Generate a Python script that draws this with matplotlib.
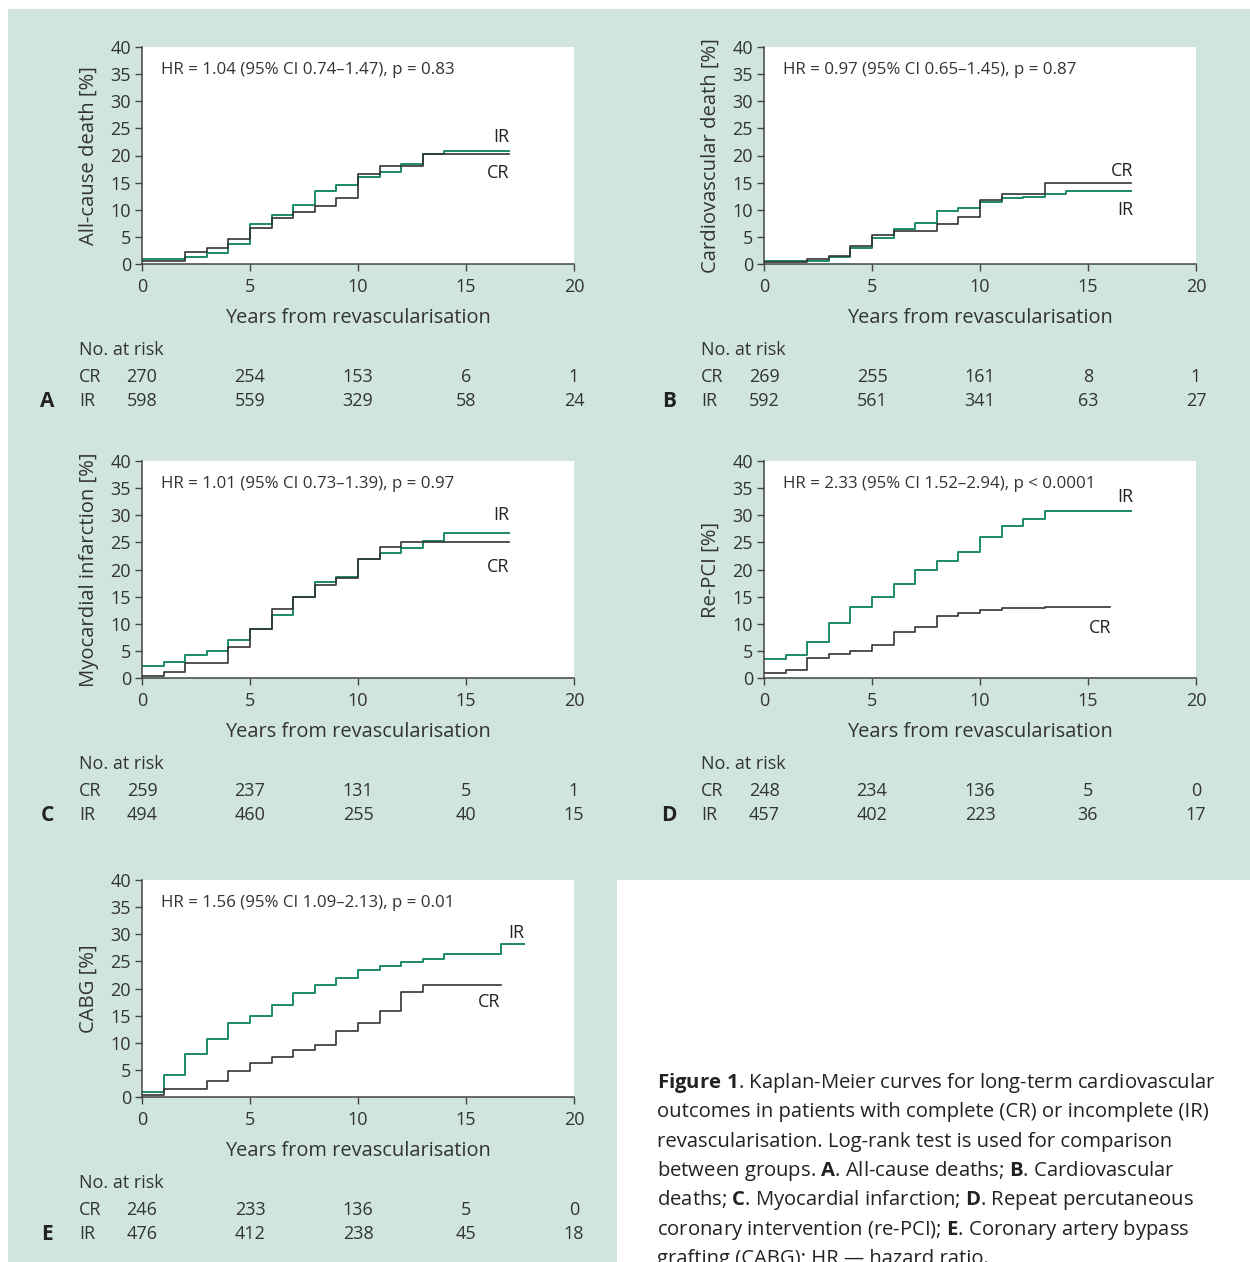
import matplotlib
matplotlib.use("Agg")
import matplotlib.pyplot as plt
import matplotlib.transforms as mtransforms
from matplotlib.patches import Polygon

plt.rcParams['font.family'] = ['Open Sans', 'DejaVu Sans']
plt.rcParams['mathtext.fontset'] = 'custom'
plt.rcParams['mathtext.rm'] = 'Open Sans'
plt.rcParams['mathtext.bf'] = 'Open Sans:bold'

W, H = 1250, 1262
BG = '#d0e5dd'
GREEN = '#1b8a67'
DARK = '#333333'

######################################################################
# data (cumulative incidence, %)

a_years_cr = [0, 2, 3, 4, 5, 6, 7, 8, 9, 10, 11, 13, 17]
a_cr = [0.6, 2.3, 3.0, 4.7, 6.7, 8.4, 9.5, 10.6, 12.2, 16.5, 18.1, 20.2, 20.2]
a_years_ir = [0, 2, 3, 4, 5, 6, 7, 8, 9, 10, 11, 12, 13, 14, 17]
a_ir = [1.0, 1.3, 2.0, 3.6, 7.3, 9.1, 10.8, 13.5, 14.5, 16.0, 17.0, 18.5, 20.2, 20.8, 20.8]

b_years_cr = [0, 2, 3, 4, 5, 6, 8, 9, 10, 11, 13, 17]
b_cr = [0.4, 0.9, 1.5, 3.3, 5.3, 6.1, 7.3, 8.7, 11.8, 12.9, 15.0, 15.0]
b_years_ir = [0, 3, 4, 5, 6, 7, 8, 9, 10, 11, 12, 13, 14, 17]
b_ir = [0.5, 1.3, 3.0, 4.8, 6.5, 7.6, 9.8, 10.4, 11.5, 12.2, 12.4, 12.9, 13.4, 13.4]

c_years_cr = [0, 1, 2, 4, 5, 6, 7, 8, 9, 10, 11, 12, 17]
c_cr = [0.4, 1.1, 2.7, 5.7, 9.1, 12.7, 14.9, 17.2, 18.4, 21.9, 24.2, 25.0, 25.0]
c_years_ir = [0, 1, 2, 3, 4, 5, 6, 7, 8, 9, 10, 11, 12, 13, 14, 17]
c_ir = [2.3, 3.0, 4.3, 5.0, 7.0, 9.1, 11.6, 14.9, 17.7, 18.7, 21.9, 23.1, 24.0, 25.3, 26.8, 26.8]

d_years_cr = [0, 1, 2, 3, 4, 5, 6, 7, 8, 9, 10, 11, 13, 16]
d_cr = [0.9, 1.5, 3.7, 4.5, 4.9, 6.1, 8.5, 9.4, 11.5, 11.9, 12.5, 12.9, 13.1, 13.1]
d_years_ir = [0, 1, 2, 3, 4, 5, 6, 7, 8, 9, 10, 11, 12, 13, 17]
d_ir = [3.5, 4.3, 6.7, 10.2, 13.0, 14.9, 17.4, 19.9, 21.6, 23.3, 25.9, 28.1, 29.3, 30.7, 30.7]

e_years_cr = [0, 1, 3, 4, 5, 6, 7, 8, 9, 10, 11, 12, 13, 16.6]
e_cr = [0.4, 1.4, 3.0, 4.8, 6.2, 7.4, 8.6, 9.5, 12.1, 13.6, 15.8, 19.4, 20.6, 20.6]
e_years_ir = [0, 1, 2, 3, 4, 5, 6, 7, 8, 9, 10, 11, 12, 13, 14, 16.6, 17.7]
e_ir = [1.0, 4.1, 7.9, 10.6, 13.6, 14.9, 16.9, 19.2, 20.7, 22.0, 23.4, 24.1, 24.8, 25.5, 26.3, 28.2, 28.2]

risk_years = [0, 5, 10, 15, 20]
a_risk_cr = [270, 254, 153, 6, 1]
a_risk_ir = [598, 559, 329, 58, 24]
b_risk_cr = [269, 255, 161, 8, 1]
b_risk_ir = [592, 561, 341, 63, 27]
c_risk_cr = [259, 237, 131, 5, 1]
c_risk_ir = [494, 460, 255, 40, 15]
d_risk_cr = [248, 234, 136, 5, 0]
d_risk_ir = [457, 402, 223, 36, 17]
e_risk_cr = [246, 233, 136, 5, 0]
e_risk_ir = [476, 412, 238, 45, 18]

######################################################################

panels = [
    dict(letter='A', ylabel='All-cause death [%]',
         hr='HR = 1.04 (95% CI 0.74–1.47), p = 0.83',
         cr=(a_years_cr, a_cr), ir=(a_years_ir, a_ir),
         risk=(a_risk_cr, a_risk_ir),
         cr_lab=(17, 16.8), ir_lab=(17, 23.5), left=142, top=47),
    dict(letter='B', ylabel='Cardiovascular death [%]',
         hr='HR = 0.97 (95% CI 0.65–1.45), p = 0.87',
         cr=(b_years_cr, b_cr), ir=(b_years_ir, b_ir),
         risk=(b_risk_cr, b_risk_ir),
         cr_lab=(17.1, 17.2), ir_lab=(17.1, 10.0), left=764, top=47),
    dict(letter='C', ylabel='Myocardial infarction [%]',
         hr='HR = 1.01 (95% CI 0.73–1.39), p = 0.97',
         cr=(c_years_cr, c_cr), ir=(c_years_ir, c_ir),
         risk=(c_risk_cr, c_risk_ir),
         cr_lab=(17, 20.4), ir_lab=(17, 30.1), left=142, top=461),
    dict(letter='D', ylabel='Re-PCI [%]',
         hr='HR = 2.33 (95% CI 1.52–2.94), p < 0.0001',
         cr=(d_years_cr, d_cr), ir=(d_years_ir, d_ir),
         risk=(d_risk_cr, d_risk_ir),
         cr_lab=(16.1, 9.3), ir_lab=(17.1, 33.4), left=764, top=461),
    dict(letter='E', ylabel='CABG [%]',
         hr='HR = 1.56 (95% CI 1.09–2.13), p = 0.01',
         cr=(e_years_cr, e_cr), ir=(e_years_ir, e_ir),
         risk=(e_risk_cr, e_risk_ir),
         cr_lab=(16.6, 17.6), ir_lab=(17.7, 30.2), left=142, top=880),
]

caption = [
    r'$\mathbf{Figure\ 1}$. Kaplan-Meier curves for long-term cardiovascular',
    'outcomes in patients with complete (CR) or incomplete (IR)',
    'revascularisation. Log-rank test is used for comparison',
    r'between groups. $\mathbf{A}$. All-cause deaths; $\mathbf{B}$. Cardiovascular',
    r'deaths; $\mathbf{C}$. Myocardial infarction; $\mathbf{D}$. Repeat percutaneous',
    r'coronary intervention (re-PCI); $\mathbf{E}$. Coronary artery bypass',
    'grafting (CABG); HR — hazard ratio.',
]


def fx(x):
    return x / W


def fy(y):
    return 1 - y / H


def draw_panel(fig, p):
    ax_w, ax_h = 432, 217
    ax = fig.add_axes([fx(p['left']), fy(p['top'] + ax_h), ax_w / W, ax_h / H])
    ax.set_facecolor('white')

    ax.step(p['cr'][0], p['cr'][1], where='post', color=DARK, lw=1.2, zorder=3)
    ax.step(p['ir'][0], p['ir'][1], where='post', color=GREEN, lw=1.4, zorder=2)

    ax.set_xlim(0, 20)
    ax.set_ylim(0, 40)
    ax.set_xticks(range(0, 21, 5))
    ax.set_yticks(range(0, 41, 5))
    for s in ['top', 'right']:
        ax.spines[s].set_visible(False)
    for s in ['left', 'bottom']:
        ax.spines[s].set_color('#444444')
        ax.spines[s].set_linewidth(1.1)
    ax.tick_params(direction='out', length=5, width=1, color='#444444',
                   labelsize=13, labelcolor='#333333', pad=3)
    ax.tick_params(axis='x', pad=5)
    ax.set_xlabel('Years from revascularisation', fontsize=14.4, color='#333333', labelpad=9)
    ax.set_ylabel(p['ylabel'], fontsize=14.6, color='#333333', labelpad=8)

    ax.text(0.044, 0.894, p['hr'], transform=ax.transAxes, fontsize=12.2,
            color='#333333', ha='left', va='center')
    ax.text(p['ir_lab'][0], p['ir_lab'][1], 'IR', fontsize=13, color='#222222',
            ha='right', va='center')
    ax.text(p['cr_lab'][0], p['cr_lab'][1], 'CR', fontsize=13, color='#222222',
            ha='right', va='center')

    # number at risk table
    trans = mtransforms.blended_transform_factory(ax.transData, ax.transAxes)
    row_y = [-0.521, -0.632]
    for vals, yy in zip(p['risk'], row_y):
        for xx, v in zip(risk_years, vals):
            ax.text(xx, yy, str(v), transform=trans, fontsize=13, color='#333333',
                    ha='center', va='center', clip_on=False)
    lab_x = -63 / ax_w
    ax.text(lab_x, -0.396, 'No. at risk', transform=ax.transAxes, fontsize=13,
            color='#333333', ha='left', va='center')
    ax.text(lab_x, row_y[0], 'CR', transform=ax.transAxes, fontsize=13,
            color='#333333', ha='left', va='center')
    ax.text(lab_x, row_y[1], 'IR', transform=ax.transAxes, fontsize=13,
            color='#333333', ha='left', va='center')
    ax.text(-95 / ax_w, row_y[1], p['letter'], transform=ax.transAxes, fontsize=15,
            fontweight='bold', color='#222222', ha='center', va='center')
    return ax


def main():
    fig = plt.figure(figsize=(W / 100, H / 100), dpi=100)
    fig.patch.set_facecolor('white')

    bg_px = [(8, 9), (1250, 9), (1250, 880), (617, 880), (617, 1262), (8, 1262)]
    bg = Polygon([(fx(x), fy(y)) for x, y in bg_px], closed=True,
                 transform=fig.transFigure, facecolor=BG, edgecolor='none', zorder=-5)
    fig.patches.append(bg)

    for p in panels:
        draw_panel(fig, p)

    for i, line in enumerate(caption):
        fig.text(fx(657), fy(1083 + i * 29.3), line, fontsize=14.6, color='#222222',
                 ha='left', va='center')

    fig.savefig('out.png', dpi=100, facecolor='white')


if __name__ == '__main__':
    main()
